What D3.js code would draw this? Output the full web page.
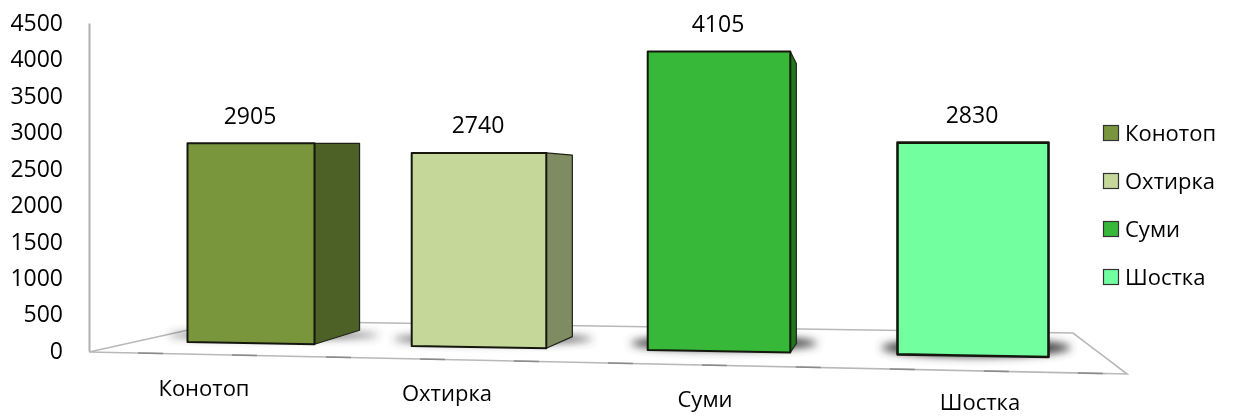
<!DOCTYPE html>
<html lang="uk">
<head>
    <meta charset="UTF-8">
    <script src="https://d3js.org/d3.v7.min.js"></script>
    <title>Chart</title>
    <style>
        html, body { margin: 0; background: #fff; }
        text { font-family: "Open Sans", sans-serif; fill: #000; }
    </style>
</head>
<body>
    <div id="container"></div>
<script>
    // data
    var categories = ["Конотоп", "Охтирка", "Суми", "Шостка"];
    var values = [2905, 2740, 4105, 2830];
    var yTicks = [0, 500, 1000, 1500, 2000, 2500, 3000, 3500, 4000, 4500];
    var frontColors = ["#7a963c", "#c5d89a", "#38b838", "#72ffa0"];
    var sideColors = ["#4e6028", "#7f8c62", "#1c7a1c", "#3aa860"];

    var svg_width = 1235, svg_height = 416;
    var svg = d3.select("#container").append("svg")
        .attr("width", svg_width).attr("height", svg_height)
        .style("display", "block");

    var defs = svg.append("defs");
    defs.append("filter").attr("id", "blur").attr("x", "-30%").attr("y", "-150%")
        .attr("width", "160%").attr("height", "400%")
        .append("feGaussianBlur").attr("stdDeviation", 4);
    defs.append("filter").attr("id", "soft").attr("x", "-5%").attr("y", "-5%")
        .attr("width", "110%").attr("height", "110%")
        .append("feGaussianBlur").attr("stdDeviation", 0.45);

    // perspective: everything grows towards the right side of the picture
    var idx = d3.range(categories.length);
    var centerX = d3.scaleLinear().domain(idx).range([251, 479, 719, 973]);
    var barWidth = d3.scaleLinear().domain([251, 973]).range([127, 151]);
    var unitPx = d3.scaleLinear().domain([251, 973]).range([0.0688, 0.0753]);
    var floorY = d3.scaleLinear().domain([188, 1049]).range([342, 357]);
    var depthDrop = d3.scaleLinear().domain([315, 791]).range([14, 9]);
    var shadowRy = d3.scaleLinear().domain(idx).range([3, 4, 7, 9]);
    var backX = function (x) { return x + (864 - x) * 0.082; };

    var labelX = d3.scaleLinear().domain(idx).range([204, 447, 705, 980]);
    var labelY = d3.scaleLinear().domain(idx).range([388, 393, 399, 402]);

    var y = d3.scaleLinear().domain([0, 4500]).range([351, 23]);

    var root = svg.append("g").attr("filter", "url(#soft)");

    // floor
    var floorPts = [[89, 352], [230, 320.7], [1073, 333], [1127, 374]];
    root.append("path")
        .attr("d", d3.line()(floorPts.concat([[89, 352]])))
        .attr("fill", "#fff").attr("stroke", "#b8b8b8").attr("stroke-width", 1.6);
    root.append("line")
        .attr("x1", 138).attr("y1", 353).attr("x2", 1127).attr("y2", 374)
        .attr("stroke", "#8a8a8a").attr("stroke-width", 1.6)
        .attr("stroke-dasharray", "25 69");

    var bars = idx.map(function (i) {
        var xc = centerX(i), w = barWidth(xc);
        var xl = xc - w / 2, xr = xc + w / 2;
        var top = floorY(xc) - values[i] * unitPx(xc);
        var bx = backX(xr);
        var bb = floorY(xr) - depthDrop(xr);
        var bt = bb - (floorY(xr) - top) * 0.93;
        return { i: i, xc: xc, xl: xl, xr: xr, top: top, bx: bx, bb: bb, bt: bt };
    });

    // shadows on the floor
    root.selectAll(".shadow").data(bars).join("ellipse")
        .attr("class", "shadow")
        .attr("cx", function (d) { return (d.xl + Math.max(d.bx, d.xr)) / 2 + d.i; })
        .attr("cy", function (d) { return floorY(d.xc) - 8; })
        .attr("rx", function (d) { return (Math.max(d.bx, d.xr) - d.xl) / 2 + 19; })
        .attr("ry", function (d) { return shadowRy(d.i); })
        .attr("fill", "#3c3c3c")
        .attr("filter", "url(#blur)");

    var line = d3.line();

    // side faces
    root.selectAll(".side").data(bars).join("path")
        .attr("class", "side")
        .attr("d", function (d) {
            return line([[d.xr, d.top], [d.bx, d.bt], [d.bx, d.bb], [d.xr, floorY(d.xr)]]) + "Z";
        })
        .attr("fill", function (d) { return sideColors[d.i]; })
        .attr("stroke", "#1e2418").attr("stroke-width", 1.2)
        .attr("stroke-linejoin", "round");

    // front faces
    root.selectAll(".front").data(bars).join("path")
        .attr("class", "front")
        .attr("d", function (d) {
            return line([[d.xl, d.top], [d.xr, d.top], [d.xr, floorY(d.xr)], [d.xl, floorY(d.xl)]]) + "Z";
        })
        .attr("fill", function (d) { return frontColors[d.i]; })
        .attr("stroke", "#14180f").attr("stroke-width", function (d) { return d.i === 3 ? 2.6 : 2; })
        .attr("stroke-linejoin", "round");

    // value labels
    root.selectAll(".value").data(bars).join("text")
        .attr("class", "value")
        .attr("x", function (d) { return d.xc - 1; })
        .attr("y", function (d) { return d.top - 28; })
        .attr("dy", "0.36em").attr("text-anchor", "middle")
        .attr("font-size", 23)
        .text(function (d) { return values[d.i]; });

    // y axis
    var yAxis = d3.axisLeft(y).tickValues(yTicks).tickFormat(d3.format("d")).tickSize(0).tickPadding(26);
    var gy = root.append("g").attr("transform", "translate(89,0)").call(yAxis);
    gy.select(".domain").attr("stroke", "#b0b0b0").attr("stroke-width", 2);
    gy.selectAll("text").attr("font-size", 23)
        .style("font-family", '"Open Sans", sans-serif').attr("fill", "#000");

    // category labels
    root.selectAll(".cat").data(categories).join("text")
        .attr("class", "cat")
        .attr("x", function (d, i) { return labelX(i); })
        .attr("y", function (d, i) { return labelY(i); })
        .attr("dy", "0.36em").attr("text-anchor", "middle")
        .attr("font-size", 22)
        .text(function (d) { return d; });

    // legend
    var legendY = d3.scalePoint().domain(categories).range([133, 277]);
    var legend = root.selectAll(".legend").data(categories).join("g")
        .attr("class", "legend")
        .attr("transform", function (d) { return "translate(1103," + legendY(d) + ")"; });
    legend.append("rect")
        .attr("x", 0.5).attr("y", -7.5).attr("width", 15).attr("height", 15)
        .attr("fill", function (d, i) { return frontColors[i]; })
        .attr("stroke", "#333").attr("stroke-width", 1.2);
    legend.append("text")
        .attr("x", 22).attr("dy", "0.36em")
        .attr("font-size", 22)
        .text(function (d) { return d; });
</script>
</body>
</html>
